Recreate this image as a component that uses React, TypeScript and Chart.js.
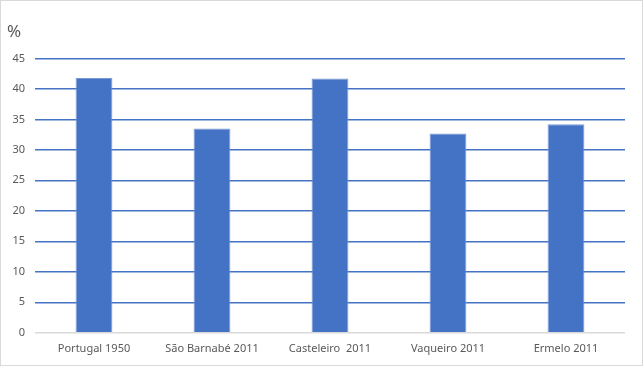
import React, { useEffect, useRef } from "react";
import { Chart, registerables } from "chart.js";

Chart.register(...registerables);

const categories = ["Portugal 1950", "São Barnabé 2011", "Casteleiro  2011", "Vaqueiro 2011", "Ermelo 2011"];
const values = [41.8, 33.5, 41.7, 32.7, 34.2];
const yTitle = "%";

export default function App() {
  const ref = useRef<HTMLCanvasElement>(null);
  useEffect(() => {
    document.body.style.margin = "0";
    const chart = new Chart(ref.current!, {
      type: "bar",
      data: {
        labels: categories,
        datasets: [
          {
            data: values,
            backgroundColor: "#4472C4",
            borderColor: "#7A9ad6",
            borderWidth: 1,
            categoryPercentage: 1,
            barPercentage: 0.312,
          },
        ],
      },
      options: {
        animation: false,
        responsive: true,
        maintainAspectRatio: false,
        layout: { padding: { left: 6, right: 17, top: 21, bottom: 9 } },
        plugins: {
          legend: { display: false },
          tooltip: { enabled: false },
          title: {
            display: true,
            text: yTitle,
            align: "start",
            color: "#595959",
            font: { family: "Noto Sans", size: 17, weight: "normal" },
            padding: { top: 0, bottom: 16 },
          },
        },
        scales: {
          x: {
            grid: { display: false },
            border: { display: false },
            ticks: {
              color: "#595959",
              font: { family: "Noto Sans", size: 11 },
              padding: 1,
              maxRotation: 0,
              autoSkip: false,
            },
          },
          y: {
            min: 0,
            max: 45,
            afterFit: (s: any) => {
              s.width = 28;
            },
            border: { display: false },
            grid: {
              drawTicks: false,
              lineWidth: 1.5,
              color: (ctx: any) => (ctx.tick && ctx.tick.value === 0 ? "#d9d9d9" : "#4472C4"),
            },
            ticks: {
              stepSize: 5,
              color: "#595959",
              font: { family: "Noto Sans", size: 11 },
              padding: 10,
            },
          },
        },
      },
    });
    return () => chart.destroy();
  }, []);
  return (
    <div
      style={{
        position: "absolute",
        left: 0,
        top: 0,
        width: 643,
        height: 366,
        boxSizing: "border-box",
        border: "1px solid #d9d9d9",
        background: "#fff",
      }}
    >
      <canvas ref={ref} />
    </div>
  );
}
